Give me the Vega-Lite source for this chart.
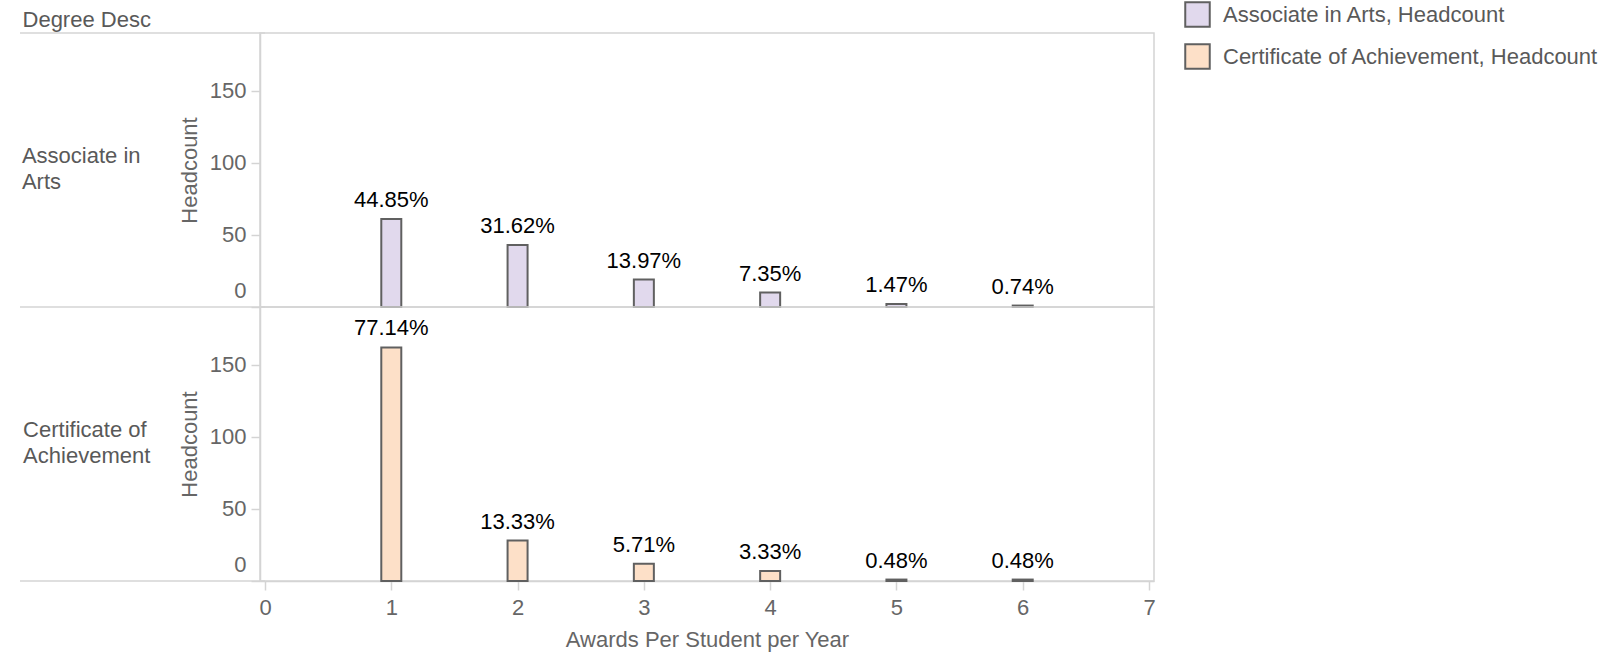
{
  "$schema": "https://vega.github.io/schema/vega-lite/v6.json",
  "padding": {"left": 18, "top": 1, "right": 5, "bottom": 5},
  "background": "white",
  "bounds": "flush",
  "title": {"text": "Degree Desc", "anchor": "start", "frame": "bounds", "dx": 4, "fontSize": 22, "font": "Liberation Sans", "fontWeight": "normal", "color": "#595959", "offset": -31},
  "data": {"values": [
    {"degree": "Associate in Arts", "awards": 1, "headcount": 61, "pct": 0.4485},
    {"degree": "Associate in Arts", "awards": 2, "headcount": 43, "pct": 0.3162},
    {"degree": "Associate in Arts", "awards": 3, "headcount": 19, "pct": 0.1397},
    {"degree": "Associate in Arts", "awards": 4, "headcount": 10, "pct": 0.0735},
    {"degree": "Associate in Arts", "awards": 5, "headcount": 2, "pct": 0.0147},
    {"degree": "Associate in Arts", "awards": 6, "headcount": 1, "pct": 0.0074},
    {"degree": "Certificate of Achievement", "awards": 1, "headcount": 162, "pct": 0.7714},
    {"degree": "Certificate of Achievement", "awards": 2, "headcount": 28, "pct": 0.1333},
    {"degree": "Certificate of Achievement", "awards": 3, "headcount": 12, "pct": 0.0571},
    {"degree": "Certificate of Achievement", "awards": 4, "headcount": 7, "pct": 0.0333},
    {"degree": "Certificate of Achievement", "awards": 5, "headcount": 1, "pct": 0.0048},
    {"degree": "Certificate of Achievement", "awards": 6, "headcount": 1, "pct": 0.0048}
  ]},
  "facet": {
    "row": {
      "field": "degree", "type": "nominal", "title": null,
      "sort": ["Associate in Arts", "Certificate of Achievement"],
      "header": {
        "labelAngle": 0, "labelAlign": "left", "labelOrient": "left", "labelBaseline": "line-bottom",
        "labelExpr": "datum.value == 'Associate in Arts' ? ['Associate in\u00a0\u2006\u200b', 'Arts'] : ['Certificate of', 'Achievement']",
        "labelFontSize": 22, "labelFont": "Liberation Sans", "labelColor": "#595959", "labelLineHeight": 26, "labelPadding": 28
      }
    }
  },
  "spacing": 0,
  "spec": {
    "width": 894,
    "height": 274,
    "layer": [
      {
        "transform": [{"filter": "datum.awards == 1"}],
        "mark": {"type": "rule", "color": "#d4d4d4", "strokeWidth": 1.5},
        "encoding": {
          "x": {"datum": -1.94, "type": "quantitative"},
          "x2": {"datum": 0},
          "y": {"datum": 0, "type": "quantitative"}
        }
      },
      {
        "transform": [{"filter": "datum.awards == 1 && datum.degree == 'Associate in Arts'"}],
        "mark": {"type": "rule", "color": "#d4d4d4", "strokeWidth": 1.5},
        "encoding": {
          "x": {"datum": -1.94, "type": "quantitative"},
          "x2": {"datum": 0},
          "y": {"datum": 190, "type": "quantitative"}
        }
      },
      {
        "mark": {"type": "bar", "width": 20, "stroke": "#606060", "strokeWidth": 2},
        "encoding": {
          "x": {"field": "awards", "type": "quantitative", "title": "Awards Per Student per Year",
                "scale": {"domain": [0, 7], "nice": false},
                "axis": {"values": [0, 1, 2, 3, 4, 5, 6, 7], "format": "d", "zindex": 1, "labelFlush": true, "labelFlushOffset": -3}},
          "y": {"field": "headcount", "type": "quantitative", "title": "Headcount",
                "scale": {"domain": [0, 190], "nice": false},
                "axis": {"values": [0, 50, 100, 150], "labelFlush": true, "labelFlushOffset": -5}},
          "color": {"field": "degree", "type": "nominal",
                    "scale": {"domain": ["Associate in Arts", "Certificate of Achievement"], "range": ["#e1d9ed", "#fde0c8"]},
                    "legend": {"title": null, "orient": "none", "legendX": 924, "legendY": -32, "padding": 0,
                               "labelExpr": "datum.label + ', Headcount'", "labelLimit": 500,
                               "symbolType": "square", "symbolSize": 600, "symbolStrokeColor": "#606060", "symbolStrokeWidth": 2,
                               "labelFontSize": 22, "labelFont": "Liberation Sans", "labelColor": "#595959", "labelOffset": 12, "rowPadding": 9}}
        }
      },
      {
        "mark": {"type": "text", "baseline": "bottom", "dy": -7, "fontSize": 22, "font": "Liberation Sans", "color": "#000000"},
        "encoding": {
          "x": {"field": "awards", "type": "quantitative"},
          "y": {"field": "headcount", "type": "quantitative"},
          "text": {"field": "pct", "type": "quantitative", "format": ".2%"}
        }
      }
    ]
  },
  "config": {
    "view": {"stroke": "#d4d4d4", "strokeWidth": 1.5},
    "axis": {
      "labelFont": "Liberation Sans", "labelFontSize": 22, "labelColor": "#666666",
      "titleFont": "Liberation Sans", "titleFontSize": 22, "titleFontWeight": "normal", "titleColor": "#666666",
      "gridColor": "#ebebeb", "gridWidth": 1.2,
      "domainColor": "#d4d4d4", "domainWidth": 1.5,
      "tickColor": "#d4d4d4", "tickWidth": 1.5, "tickSize": 9
    },
    "axisX": {"labelPadding": 7, "titlePadding": 11},
    "axisY": {"labelPadding": 5, "titlePadding": 8}
  }
}
